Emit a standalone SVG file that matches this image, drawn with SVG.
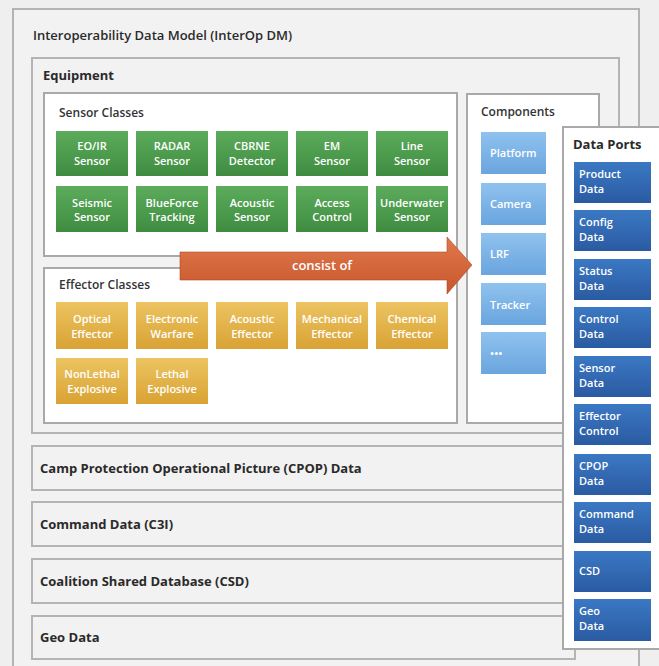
<svg xmlns="http://www.w3.org/2000/svg" width="659" height="666" viewBox="0 0 659 666">
<defs>
<linearGradient id="gGreen" x1="0" y1="0" x2="0" y2="1"><stop offset="0" stop-color="#5cac5c"/><stop offset="1" stop-color="#3f8c40"/></linearGradient>
<linearGradient id="gGold" x1="0" y1="0" x2="0" y2="1"><stop offset="0" stop-color="#ecc462"/><stop offset="1" stop-color="#d9a233"/></linearGradient>
<linearGradient id="gLight" x1="0" y1="0" x2="0" y2="1"><stop offset="0" stop-color="#8fc2ee"/><stop offset="1" stop-color="#6aa5df"/></linearGradient>
<linearGradient id="gDark" x1="0" y1="0" x2="0" y2="1"><stop offset="0" stop-color="#3b78c3"/><stop offset="1" stop-color="#2a5ba2"/></linearGradient>
<linearGradient id="gArrow" x1="0" y1="0" x2="0" y2="1"><stop offset="0" stop-color="#e07a4c"/><stop offset="1" stop-color="#c9552d"/></linearGradient>
</defs>
<style>
text{font-family:"Open Sans","Noto Sans","Liberation Sans",sans-serif;}
.frame{fill:#f2f2f2;stroke:#b4b4b4;stroke-width:2;}
.panel{fill:#ffffff;stroke:#a9a9a9;stroke-width:2;}
.h1{font-size:13px;font-weight:600;fill:#2a2a2a;}
.h2{font-size:13px;font-weight:700;fill:#2a2a2a;}
.h3{font-size:12px;font-weight:600;fill:#333;}
.t{font-size:11px;font-weight:600;fill:#ffffff;text-anchor:middle;}
.tl{font-size:11px;font-weight:600;fill:#ffffff;}
.green{fill:url(#gGreen);}
.gold{fill:url(#gGold);}
.light{fill:url(#gLight);}
.dark{fill:url(#gDark);}
</style>
<rect x="0" y="0" width="659" height="666" fill="#efefef"/>
<g id="interop-dm">
<rect class="frame" x="13" y="9" width="626" height="670"/>
<text class="h1" x="33" y="40">Interoperability Data Model (InterOp DM)</text>
</g>
<g id="equipment">
<rect class="frame" x="32" y="58" width="587" height="375"/>
<text class="h2" x="43" y="80">Equipment</text>
</g>
<g id="sensor-classes">
<rect class="panel" x="44" y="93" width="413" height="163"/>
<text class="h3" x="59" y="117">Sensor Classes</text>
<g id="s-eoir"><rect class="green" x="56" y="131" width="72" height="45"/><text class="t" x="92" y="150">EO/IR</text><text class="t" x="92" y="165">Sensor</text></g>
<g id="s-radar"><rect class="green" x="136" y="131" width="72" height="45"/><text class="t" x="172" y="150">RADAR</text><text class="t" x="172" y="165">Sensor</text></g>
<g id="s-cbrne"><rect class="green" x="216" y="131" width="72" height="45"/><text class="t" x="252" y="150">CBRNE</text><text class="t" x="252" y="165">Detector</text></g>
<g id="s-em"><rect class="green" x="296" y="131" width="72" height="45"/><text class="t" x="332" y="150">EM</text><text class="t" x="332" y="165">Sensor</text></g>
<g id="s-line"><rect class="green" x="376" y="131" width="72" height="45"/><text class="t" x="412" y="150">Line</text><text class="t" x="412" y="165">Sensor</text></g>
<g id="s-seismic"><rect class="green" x="56" y="186" width="72" height="46"/><text class="t" x="92" y="207">Seismic</text><text class="t" x="92" y="221">Sensor</text></g>
<g id="s-blueforce"><rect class="green" x="136" y="186" width="72" height="46"/><text class="t" x="172" y="207">BlueForce</text><text class="t" x="172" y="221">Tracking</text></g>
<g id="s-acoustic"><rect class="green" x="216" y="186" width="72" height="46"/><text class="t" x="252" y="207">Acoustic</text><text class="t" x="252" y="221">Sensor</text></g>
<g id="s-access"><rect class="green" x="296" y="186" width="72" height="46"/><text class="t" x="332" y="207">Access</text><text class="t" x="332" y="221">Control</text></g>
<g id="s-underwater"><rect class="green" x="376" y="186" width="72" height="46"/><text class="t" x="412" y="207">Underwater</text><text class="t" x="412" y="221">Sensor</text></g>
</g>
<g id="effector-classes">
<rect class="panel" x="44" y="268" width="413" height="155"/>
<text class="h3" x="59" y="289">Effector Classes</text>
<g id="e-optical"><rect class="gold" x="56" y="302" width="72" height="47"/><text class="t" x="92" y="323">Optical</text><text class="t" x="92" y="338">Effector</text></g>
<g id="e-ew"><rect class="gold" x="136" y="302" width="72" height="47"/><text class="t" x="172" y="323">Electronic</text><text class="t" x="172" y="338">Warfare</text></g>
<g id="e-acoustic"><rect class="gold" x="216" y="302" width="72" height="47"/><text class="t" x="252" y="323">Acoustic</text><text class="t" x="252" y="338">Effector</text></g>
<g id="e-mechanical"><rect class="gold" x="296" y="302" width="72" height="47"/><text class="t" x="332" y="323">Mechanical</text><text class="t" x="332" y="338">Effector</text></g>
<g id="e-chemical"><rect class="gold" x="376" y="302" width="72" height="47"/><text class="t" x="412" y="323">Chemical</text><text class="t" x="412" y="338">Effector</text></g>
<g id="e-nonlethal"><rect class="gold" x="56" y="358" width="72" height="46"/><text class="t" x="92" y="378">NonLethal</text><text class="t" x="92" y="393">Explosive</text></g>
<g id="e-lethal"><rect class="gold" x="136" y="358" width="72" height="46"/><text class="t" x="172" y="378">Lethal</text><text class="t" x="172" y="393">Explosive</text></g>
</g>
<g id="components">
<rect class="panel" x="467" y="94" width="132" height="329"/>
<text class="h3" x="481" y="116">Components</text>
<g id="c-platform"><rect class="light" x="481" y="132" width="65" height="42"/><text class="tl" x="490" y="157">Platform</text></g>
<g id="c-camera"><rect class="light" x="481" y="183" width="65" height="42"/><text class="tl" x="490" y="208">Camera</text></g>
<g id="c-lrf"><rect class="light" x="481" y="233" width="65" height="42"/><text class="tl" x="490" y="258">LRF</text></g>
<g id="c-tracker"><rect class="light" x="481" y="283" width="65" height="42"/><text class="tl" x="490" y="309">Tracker</text></g>
<g id="c-more"><rect class="light" x="481" y="332" width="65" height="42"/><text class="tl" x="490" y="358">•••</text></g>
</g>
<g id="cpop-data">
<rect class="frame" x="32" y="446" width="543" height="44"/>
<text class="h2" x="40" y="473">Camp Protection Operational Picture (CPOP) Data</text>
</g>
<g id="command-data">
<rect class="frame" x="32" y="502" width="543" height="44"/>
<text class="h2" x="40" y="529">Command Data (C3I)</text>
</g>
<g id="csd-data">
<rect class="frame" x="32" y="559" width="543" height="44"/>
<text class="h2" x="40" y="586">Coalition Shared Database (CSD)</text>
</g>
<g id="geo-data">
<rect class="frame" x="32" y="616" width="543" height="43"/>
<text class="h2" x="40" y="642">Geo Data</text>
</g>
<g id="data-ports">
<rect class="panel" x="563" y="127" width="110" height="522"/>
<text class="h2" x="573" y="149">Data Ports</text>
<g id="p-product"><rect class="dark" x="574" y="162" width="77" height="41"/><text class="tl" x="579" y="178">Product</text><text class="tl" x="579" y="193">Data</text></g>
<g id="p-config"><rect class="dark" x="574" y="210" width="77" height="41"/><text class="tl" x="579" y="226">Config</text><text class="tl" x="579" y="241">Data</text></g>
<g id="p-status"><rect class="dark" x="574" y="259" width="77" height="41"/><text class="tl" x="579" y="275">Status</text><text class="tl" x="579" y="290">Data</text></g>
<g id="p-control"><rect class="dark" x="574" y="307" width="77" height="41"/><text class="tl" x="579" y="323">Control</text><text class="tl" x="579" y="338">Data</text></g>
<g id="p-sensor"><rect class="dark" x="574" y="356" width="77" height="41"/><text class="tl" x="579" y="372">Sensor</text><text class="tl" x="579" y="387">Data</text></g>
<g id="p-effector"><rect class="dark" x="574" y="404" width="77" height="41"/><text class="tl" x="579" y="420">Effector</text><text class="tl" x="579" y="435">Control</text></g>
<g id="p-cpop"><rect class="dark" x="574" y="454" width="77" height="41"/><text class="tl" x="579" y="470">CPOP</text><text class="tl" x="579" y="485">Data</text></g>
<g id="p-command"><rect class="dark" x="574" y="502" width="77" height="41"/><text class="tl" x="579" y="518">Command</text><text class="tl" x="579" y="533">Data</text></g>
<g id="p-csd"><rect class="dark" x="574" y="551" width="77" height="41"/><text class="tl" x="579" y="575">CSD</text></g>
<g id="p-geo"><rect class="dark" x="574" y="599" width="77" height="42"/><text class="tl" x="579" y="615">Geo</text><text class="tl" x="579" y="630">Data</text></g>
</g>
<g id="connectors">
<path d="M180,252 L447,252 L447,237 L472,265 L447,294 L447,280 L180,280 Z" fill="url(#gArrow)" stroke="#b04a26" stroke-width="0.6"/>
<text x="322" y="270" font-size="13" font-weight="600" fill="#ffffff" text-anchor="middle">consist of</text>
</g>
</svg>
